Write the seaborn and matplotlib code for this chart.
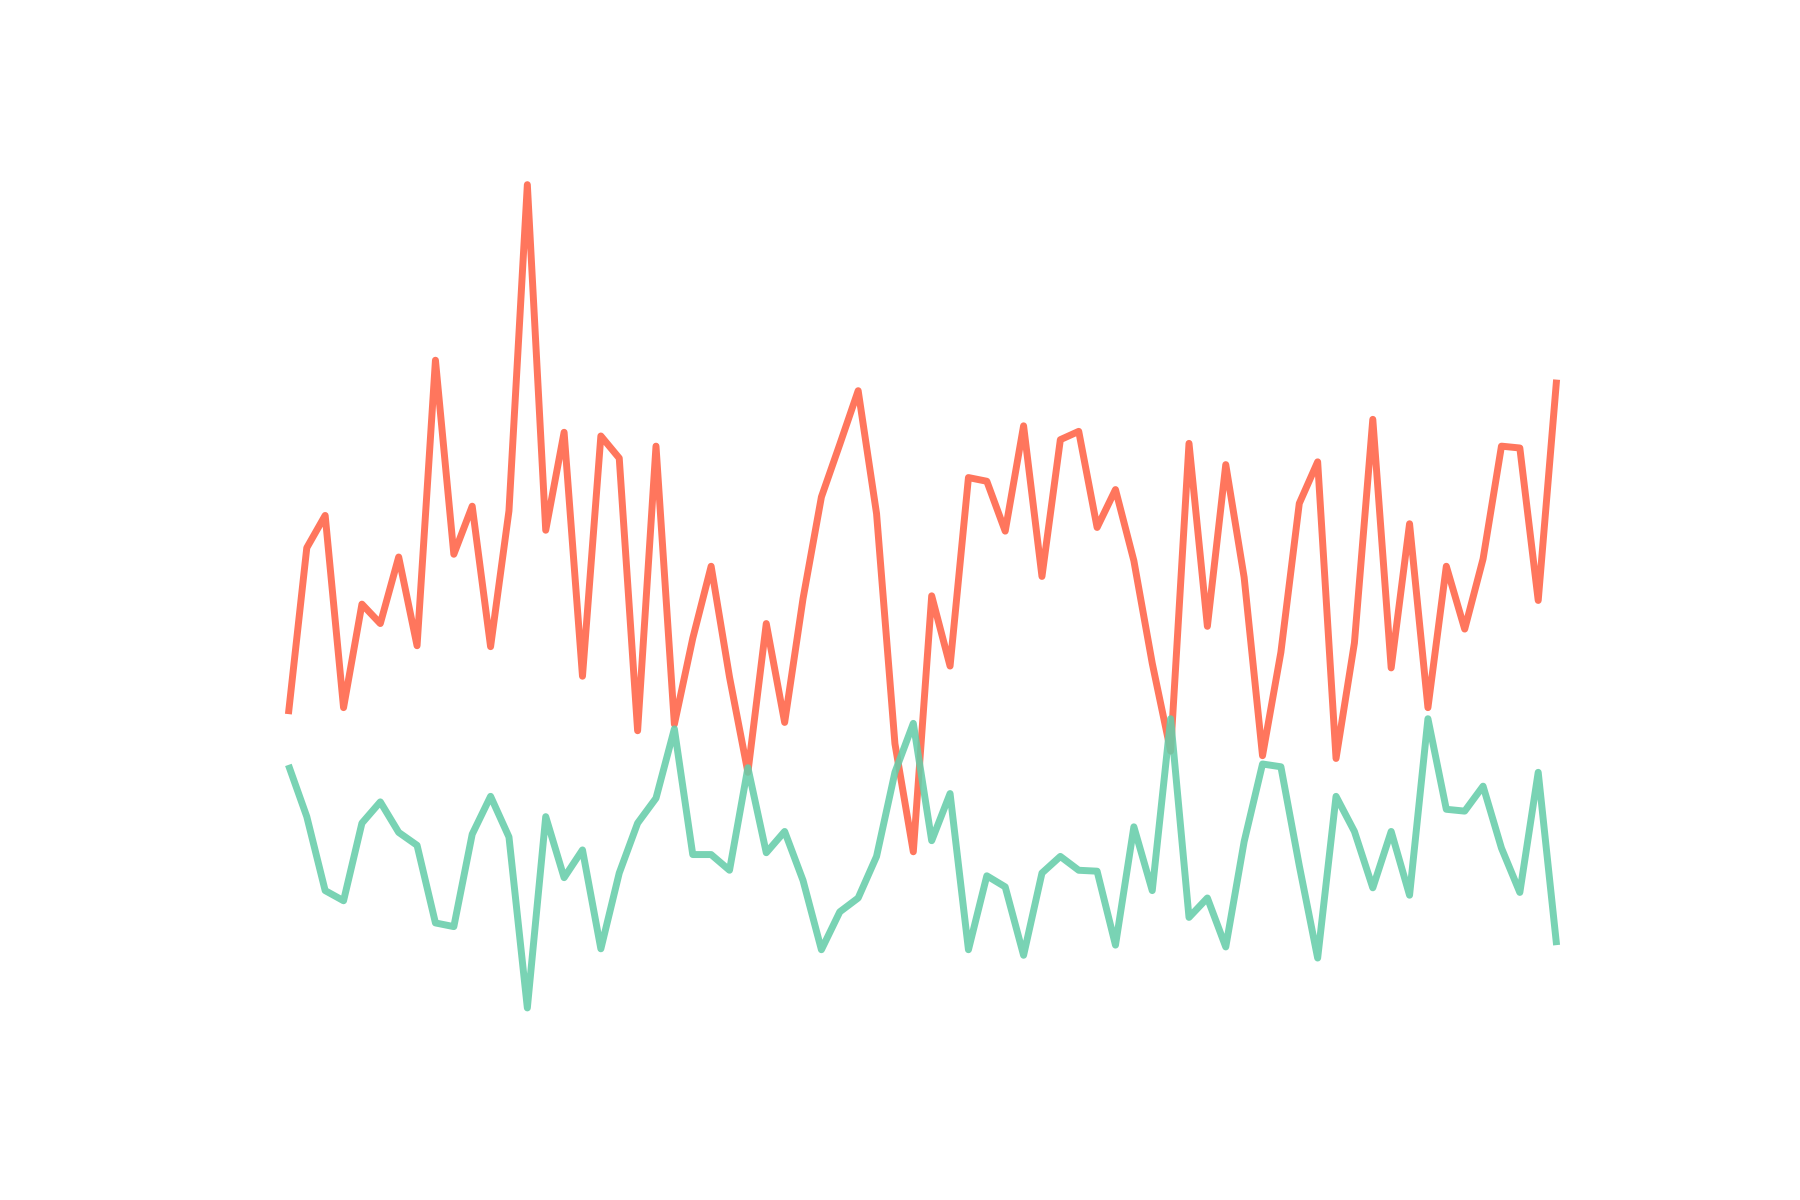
import numpy as np
import pandas as pd
import matplotlib
matplotlib.use("Agg")
import matplotlib.pyplot as plt
import seaborn as sns

# ---- data ----
steps = list(range(70))

series_a = [38.3, 56.3, 59.8, 39.0, 50.2, 48.1, 55.3, 45.7, 76.6, 55.6,
            60.8, 45.6, 60.3, 95.6, 58.2, 68.8, 42.4, 68.4, 66.0, 36.5,
            67.3, 37.2, 46.5, 54.3, 42.3, 32.0, 48.1, 37.4, 50.8, 61.8,
            67.5, 73.3, 60.0, 35.1, 23.4, 51.1, 43.5, 63.9, 63.5, 58.1,
            69.5, 53.2, 68.0, 68.9, 58.5, 62.6, 54.9, 43.8, 34.3, 67.6,
            47.8, 65.3, 53.1, 33.8, 45.0, 61.1, 65.6, 33.5, 46.0, 70.2,
            43.3, 58.9, 39.0, 54.3, 47.5, 55.1, 67.3, 67.1, 50.6, 74.5]

series_b = [32.8, 27.2, 19.2, 18.1, 26.5, 28.8, 25.5, 24.1, 15.7, 15.3,
            25.3, 29.4, 25.0, 6.5, 27.2, 20.6, 23.6, 12.9, 21.1, 26.5,
            29.2, 36.7, 23.1, 23.1, 21.4, 32.5, 23.3, 25.6, 20.3, 12.8,
            16.9, 18.4, 22.9, 32.0, 37.3, 24.6, 29.7, 12.8, 20.8, 19.6,
            12.2, 21.1, 22.9, 21.4, 21.3, 13.3, 26.1, 19.2, 37.8, 16.3,
            18.4, 13.1, 24.5, 32.9, 32.6, 21.9, 11.9, 29.4, 25.6, 19.5,
            25.6, 18.7, 37.8, 28.0, 27.8, 30.5, 23.8, 19.0, 32.0, 13.3]

series_names = ["A", "B"]
series_colors = {"A": "tomato", "B": "mediumaquamarine"}

df = pd.DataFrame({
    "step": steps + steps,
    "value": series_a + series_b,
    "series": [series_names[0]] * len(steps) + [series_names[1]] * len(steps),
})

sns.set_theme(style="white")

fig, ax = plt.subplots(figsize=(18, 12), dpi=100)
sns.lineplot(data=df, x="step", y="value", hue="series",
             hue_order=series_names, palette=series_colors,
             linewidth=5, alpha=0.88, legend=False, ax=ax,
             solid_capstyle="butt", solid_joinstyle="round")
ax.set_ylim(0, 100)
ax.axis("off")

fig.savefig("out.png", dpi=100)
